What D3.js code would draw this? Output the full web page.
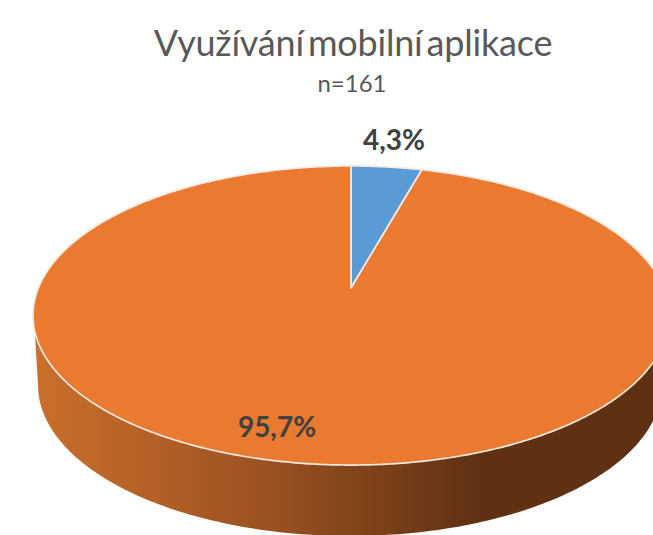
<!DOCTYPE html>
<html><head><meta charset="utf-8">
<script src="https://cdn.jsdelivr.net/npm/d3@7"></script>
<style>html,body{margin:0;padding:0;background:#fff;overflow:hidden}svg{display:block}text{font-family:Lato,"Open Sans",sans-serif}</style>
</head><body><svg id="c" width="653" height="535"></svg>
<script>
const categories = ["Ano", "Ne"];
const values = [4.3, 95.7];
const valueLabels = ["4,3%", "95,7%"];
const colors = ["#5b9bd5", "#e97a30"];
const titleText = "Využívání mobilní aplikace";
const subtitleText = "n=161";

const svg = d3.select("#c");
// perspective projection of the unit disc (tilted pie top)
const cx = 351, K = 312.6, A = 91.5, B = 288, C = -0.184;
const proj = (u, v) => { const d = 1 + C * v; return [cx + K * u / d, (A * v + B) / d]; };
const rim = a => proj(Math.sin(a), -Math.cos(a));

const defs = svg.append("defs");
const grad = defs.append("linearGradient").attr("id", "side").attr("gradientUnits", "userSpaceOnUse")
  .attr("x1", 33).attr("x2", 653).attr("y1", 0).attr("y2", 0);
[[0, "#cb702d"], [0.37, "#9c5221"], [0.72, "#5f3112"], [1, "#5f3112"]].forEach(s =>
  grad.append("stop").attr("offset", s[0]).attr("stop-color", s[1]));

// side wall: lower rim ellipse + connection to the top rim
const bx = 350, by = 385, brx = 312, bry = 151;
const ang = d3.range(0, 181).map(i => i * Math.PI / 180);
const bottom = ang.map(t => [bx + brx * Math.cos(t), by + bry * Math.sin(t)]);
const line = d3.line();
svg.append("path")
  .attr("d", line([[669, 325], ...bottom, [35, 335]]) + "Z")
  .attr("fill", "url(#side)");

const pie = d3.pie().sort(null).value(d => d)(values);
const step = Math.PI / 360;
const wedge = p => {
  const n = Math.max(2, Math.ceil((p.endAngle - p.startAngle) / step));
  const pts = d3.range(n + 1).map(i => rim(p.startAngle + (p.endAngle - p.startAngle) * i / n));
  return line([proj(0, 0), ...pts]) + "Z";
};
svg.append("g").selectAll("path").data(pie).join("path")
  .attr("d", wedge)
  .attr("fill", (d, i) => colors[i])
  .attr("stroke", "#f6e9df").attr("stroke-width", 1.7).attr("stroke-linejoin", "round");

svg.append("text").attr("x", 353).attr("y", 56).attr("text-anchor", "middle")
  .attr("font-size", 36).attr("fill", "#595959").attr("letter-spacing", -0.2).attr("word-spacing", -5).text(titleText);
svg.append("text").attr("x", 352).attr("y", 92).attr("text-anchor", "middle")
  .attr("font-size", 24).attr("fill", "#595959").text(subtitleText);

const labelPos = [[394, 150], [277, 437]];
svg.append("g").selectAll("text").data(valueLabels).join("text")
  .attr("x", (d, i) => labelPos[i][0]).attr("y", (d, i) => labelPos[i][1])
  .attr("text-anchor", "middle").attr("font-size", 28).attr("font-weight", 700)
  .attr("fill", "#404040").text(d => d);
</script></body></html>
